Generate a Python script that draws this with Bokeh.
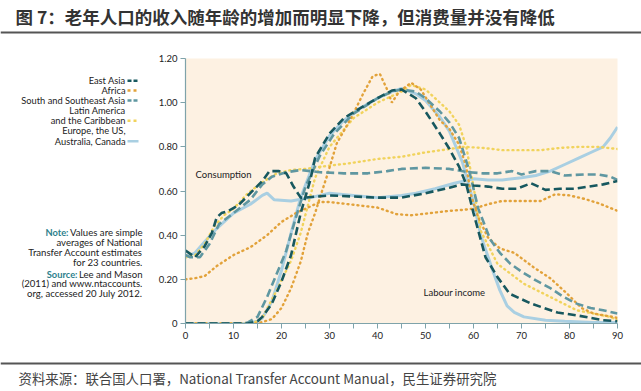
from bokeh.plotting import figure
from bokeh.layouts import column, row
from bokeh.models import Range1d, Label, Span, FixedTicker, CustomJSTickFormatter
from bokeh.embed import file_html
from bokeh.resources import INLINE

# ---------------- data ----------------
# Consumption profiles
ea_c_age = [0, 2, 4, 5.5, 6.5, 7.5, 9, 11, 13.5, 16, 17.5, 19.5, 21, 22.5, 24, 25, 30, 35, 40, 45, 50, 55, 57.5, 60, 63, 66, 69, 72, 75, 78, 81, 84, 87, 90]
ea_c_val = [0.33, 0.30, 0.35, 0.41, 0.48, 0.50, 0.51, 0.535, 0.59, 0.645, 0.69, 0.69, 0.68, 0.62, 0.57, 0.57, 0.58, 0.575, 0.57, 0.57, 0.59, 0.615, 0.63, 0.625, 0.62, 0.61, 0.61, 0.635, 0.605, 0.61, 0.61, 0.62, 0.63, 0.645]

af_c_age = [0, 2, 4, 6.5, 10, 13.5, 17, 20, 23, 26, 28, 30, 34, 40, 44, 47, 51, 55, 58, 60, 63, 66, 70, 74, 77, 80, 83, 86, 90]
af_c_val = [0.20, 0.205, 0.215, 0.26, 0.31, 0.345, 0.40, 0.46, 0.50, 0.53, 0.55, 0.55, 0.54, 0.525, 0.495, 0.49, 0.50, 0.51, 0.515, 0.52, 0.54, 0.555, 0.555, 0.555, 0.585, 0.58, 0.565, 0.545, 0.51]

ss_c_age = [0, 1, 3, 5, 7, 10, 13.5, 16, 18, 21, 24, 28, 33, 38, 42, 45, 50, 55, 59, 62, 65, 68, 70, 73, 76, 79, 83, 86, 88.5, 90]
ss_c_val = [0.31, 0.30, 0.30, 0.36, 0.45, 0.50, 0.56, 0.63, 0.665, 0.685, 0.695, 0.685, 0.68, 0.68, 0.69, 0.70, 0.705, 0.70, 0.685, 0.68, 0.68, 0.69, 0.675, 0.69, 0.69, 0.67, 0.675, 0.675, 0.665, 0.65]

la_c_age = [0, 2, 4, 6, 8, 10, 13, 16, 19, 22, 25, 30, 34, 40, 45, 50, 55, 58, 62, 66, 70, 74, 78, 82, 86, 90]
la_c_val = [0.30, 0.31, 0.36, 0.44, 0.49, 0.52, 0.59, 0.64, 0.68, 0.695, 0.70, 0.715, 0.725, 0.745, 0.755, 0.775, 0.79, 0.80, 0.795, 0.785, 0.785, 0.785, 0.795, 0.80, 0.80, 0.79]

eu_c_age = [0, 2, 4, 6.5, 10, 13.5, 16, 17, 18.5, 22, 26, 30, 35, 40, 45, 48, 52, 56, 60, 63, 66, 70, 73, 76, 79, 82, 85, 87, 88.5, 90]
eu_c_val = [0.30, 0.32, 0.37, 0.43, 0.50, 0.54, 0.58, 0.59, 0.56, 0.555, 0.57, 0.59, 0.58, 0.57, 0.58, 0.59, 0.61, 0.635, 0.655, 0.65, 0.65, 0.66, 0.67, 0.69, 0.72, 0.75, 0.78, 0.80, 0.84, 0.89]

# Labour income profiles
ea_l_age = [0, 13, 15, 16, 18, 20, 22, 24, 26, 27, 30, 33, 36, 40, 43, 45, 48, 50, 53, 55, 57, 58.5, 60, 62.5, 65, 67.5, 72, 77.5, 82, 87, 90]
ea_l_val = [0, 0, 0.01, 0.03, 0.09, 0.19, 0.31, 0.50, 0.65, 0.75, 0.86, 0.93, 0.97, 1.02, 1.055, 1.06, 1.02, 0.96, 0.86, 0.79, 0.71, 0.63, 0.50, 0.30, 0.21, 0.135, 0.09, 0.05, 0.035, 0.015, 0.01]

af_l_age = [0, 15, 18, 20, 22, 24, 25.5, 27, 28, 29.5, 31.5, 34.5, 37, 39, 40.5, 42, 43, 44.5, 47, 49, 51, 53, 55, 57, 58.5, 59.5, 61, 63, 65.5, 68.5, 72.5, 76, 79.5, 82.5, 85, 89, 90]
af_l_val = [0, 0, 0.02, 0.07, 0.16, 0.28, 0.41, 0.50, 0.57, 0.67, 0.815, 0.93, 1.04, 1.12, 1.13, 1.06, 1.00, 1.05, 1.09, 1.06, 0.99, 0.92, 0.88, 0.81, 0.71, 0.58, 0.48, 0.39, 0.34, 0.32, 0.255, 0.205, 0.135, 0.07, 0.045, 0.03, 0.025]

ss_l_age = [0, 12, 13, 15, 17, 19, 21, 23, 25, 28, 31, 35, 40, 43, 45, 48, 50, 53, 55, 57, 59, 61, 63.5, 65.5, 67.7, 70, 73, 76, 78.8, 81.5, 84.4, 87, 90]
ss_l_val = [0, 0, 0.005, 0.03, 0.12, 0.225, 0.33, 0.48, 0.62, 0.76, 0.86, 0.95, 1.02, 1.05, 1.06, 1.05, 1.02, 0.96, 0.91, 0.84, 0.70, 0.52, 0.38, 0.32, 0.27, 0.235, 0.195, 0.16, 0.12, 0.09, 0.07, 0.06, 0.045]

la_l_age = [0, 14, 16, 19, 22, 24, 27, 30, 35, 40, 45, 47, 50, 55, 57, 58.5, 60, 61.5, 65, 70.5, 76, 81.5, 88.5, 90]
la_l_val = [0, 0, 0.025, 0.15, 0.285, 0.41, 0.66, 0.80, 0.93, 1.00, 1.05, 1.08, 1.06, 0.96, 0.90, 0.80, 0.62, 0.42, 0.27, 0.18, 0.12, 0.06, 0.03, 0.015]

eu_l_age = [0, 13, 15, 16, 18, 20, 22, 24, 27, 30, 33, 36, 40, 43, 45, 48, 50, 53, 55, 57.7, 60, 61.5, 64, 65.5, 67, 68.5, 70.5, 75, 79, 85, 90]
eu_l_val = [0, 0, 0.01, 0.025, 0.10, 0.24, 0.41, 0.57, 0.74, 0.85, 0.92, 0.97, 1.02, 1.05, 1.065, 1.04, 1.01, 0.935, 0.87, 0.73, 0.55, 0.40, 0.24, 0.15, 0.08, 0.05, 0.03, 0.015, 0.01, 0.005, 0.005]

y_ticks = [0, 0.2, 0.4, 0.6, 0.8, 1.0, 1.2]
x_ticks = [0, 10, 20, 30, 40, 50, 60, 70, 80, 90]
x_minor = [5, 15, 25, 35, 45, 55, 65, 75, 85]

title_text = "图 7：老年人口的收入随年龄的增加而明显下降，但消费量并没有降低"
source_text = "资料来源：联合国人口署，National Transfer Account Manual，民生证券研究院"
legend_labels = [["East Asia"], ["Africa"], ["South and Southeast Asia"],
                 ["Latin America", "and the Caribbean"], ["Europe, the US,", "Australia, Canada"]]
note_lines = ["Values are simple", "averages of National", "Transfer Account estimates", "for 23 countries."]
source_lines = ["Lee and Mason", "(2011) and www.ntaccounts.", "org, accessed 20 July 2012."]

# ---------------- styles ----------------
C_EA = "#17585F"
C_AF = "#E2A23A"
C_SS = "#5F97A1"
C_LA = "#F1D35C"
C_EU = "#A9CFE2"
FONT = "Lato"
TXT = "#222222"
FS = "9.3px"

st_ea = dict(line_color=C_EA, line_width=2.6, line_dash="8 4")
st_ss = dict(line_color=C_SS, line_width=2.6, line_dash="8 4")
st_af = dict(line_color=C_AF, line_width=2.4, line_dash="1 4", line_cap="round")
st_la = dict(line_color=C_LA, line_width=2.4, line_dash="1 4", line_cap="round")
st_eu = dict(line_color=C_EU, line_width=3)


def blank(w, h, x0, x1, ytop, ybot):
    f = figure(width=w, height=h, x_range=Range1d(x0, x1), y_range=Range1d(ybot, ytop),
               min_border=0, toolbar_location=None, output_backend="svg",
               x_axis_location=None, y_axis_location=None, outline_line_color=None,
               background_fill_color="white", border_fill_color="white")
    f.grid.visible = False
    return f


# ---------------- header (page y 0..36) ----------------
header = blank(641, 36, 0, 641, 0, 36)
header.add_layout(Label(x=15, y=16, text=title_text, text_font="Noto Sans CJK SC",
                        text_font_style="bold", text_font_size="17.5px", text_color="#333333",
                        text_baseline="middle"))
header.add_layout(Span(location=32, dimension="width", line_color="#555555", line_width=2))

# ---------------- left panel (legend + notes), page x 0..155, y 36..358 ----------------
left = blank(155, 322, 0, 155, 36, 358)
leg_y = [63, 75, 87, 99, 124]
leg_styles = [st_ea, st_af, st_ss, st_la, st_eu]
for labels, y0, st in zip(legend_labels, leg_y, leg_styles):
    for i, t in enumerate(labels):
        left.add_layout(Label(x=125, y=y0 + 12.5 * i, text=t, text_font=FONT, text_font_size=FS,
                              text_color=TXT, text_align="right", text_baseline="middle"))
    ys = y0 + 12.5 * (len(labels) - 1)
    s = dict(st)
    s["line_width"] = 2.5
    if "line_dash" in s:
        s["line_dash"] = "4 2" if s["line_dash"] == "8 4" else "3 3"
        s["line_cap"] = "butt"
    left.line([127, 138], [ys, ys], **s)

left.add_layout(Label(x=68, y=248, text="Note:", text_font=FONT, text_font_size=FS,
                      text_font_style="bold", text_color="#2C7F8C", text_align="right",
                      text_baseline="middle"))
for i, t in enumerate(note_lines):
    left.add_layout(Label(x=142, y=248 + 12 * i, text=t, text_font=FONT, text_font_size="9.6px",
                          text_color=TXT, text_align="right", text_baseline="middle"))
left.add_layout(Label(x=77, y=298, text="Source:", text_font=FONT, text_font_size=FS,
                      text_font_style="bold", text_color="#2C7F8C", text_align="right",
                      text_baseline="middle"))
for i, t in enumerate(source_lines):
    left.add_layout(Label(x=142, y=298 + 12 * i, text=t, text_font=FONT, text_font_size="9.6px",
                          text_color=TXT, text_align="right", text_baseline="middle"))

# ---------------- main chart, page x 155..641, y 36..358 ----------------
p = figure(width=486, height=322, x_range=Range1d(0, 90), y_range=Range1d(0, 1.2),
           min_border_left=30, min_border_right=24, min_border_top=22, min_border_bottom=35,
           toolbar_location=None, output_backend="svg", background_fill_color="#FDF1E2",
           border_fill_color="white", outline_line_color=None)
p.grid.visible = False

for ax in (p.xaxis[0], p.yaxis[0]):
    ax.axis_line_color = "#7FA3AA"
    ax.axis_line_width = 1.2
    ax.major_tick_line_color = "#7FA3AA"
    ax.minor_tick_line_color = "#7FA3AA"
    ax.major_tick_in = 0
    ax.major_tick_out = 5
    ax.minor_tick_in = 0
    ax.minor_tick_out = 5
    ax.major_label_text_font = FONT
    ax.major_label_text_font_size = "9.5px"
    ax.major_label_text_color = TXT
    ax.major_label_standoff = 3

p.xaxis.ticker = FixedTicker(ticks=x_ticks, minor_ticks=x_minor)
p.yaxis.ticker = FixedTicker(ticks=y_ticks, minor_ticks=[])
p.yaxis.formatter = CustomJSTickFormatter(code="return tick == 0 ? '0' : tick.toFixed(2);")

# draw order: light lines underneath
p.line(eu_c_age, eu_c_val, **st_eu)
p.line(eu_l_age, eu_l_val, **st_eu)
p.line(la_c_age, la_c_val, **st_la)
p.line(la_l_age, la_l_val, **st_la)
p.line(af_c_age, af_c_val, **st_af)
p.line(af_l_age, af_l_val, **st_af)
p.line(ss_c_age, ss_c_val, **st_ss)
p.line(ss_l_age, ss_l_val, **st_ss)
p.line(ea_c_age, ea_c_val, **st_ea)
p.line(ea_l_age, ea_l_val, **st_ea)

def ann(x, y, t, **kw):
    d = dict(text_font=FONT, text_font_size="9.5px", text_color=TXT, text_baseline="middle")
    d.update(kw)
    p.add_layout(Label(x=x, y=y, text=t, **d))

ann(0.2, 1.25, "Relative to per capita labour income for ages 30-49", text_font_size="9px")
ann(2.1, 0.675, "Consumption")
ann(49.6, 0.14, "Labour income")
ann(90, -0.113, "Age", text_align="right", text_font_size="8.5px")

# ---------------- footer, page y 358..389 ----------------
footer = blank(641, 31, 0, 641, 358, 389)
footer.add_layout(Span(location=363, dimension="width", line_color="#555555", line_width=2))
footer.add_layout(Label(x=18, y=377, text=source_text, text_font="Noto Sans CJK SC",
                        text_font_size="13.4px", text_color="#444444", text_baseline="middle"))

layout = column(header, row(left, p), footer)
open("out.html", "w").write(file_html(layout, INLINE))
